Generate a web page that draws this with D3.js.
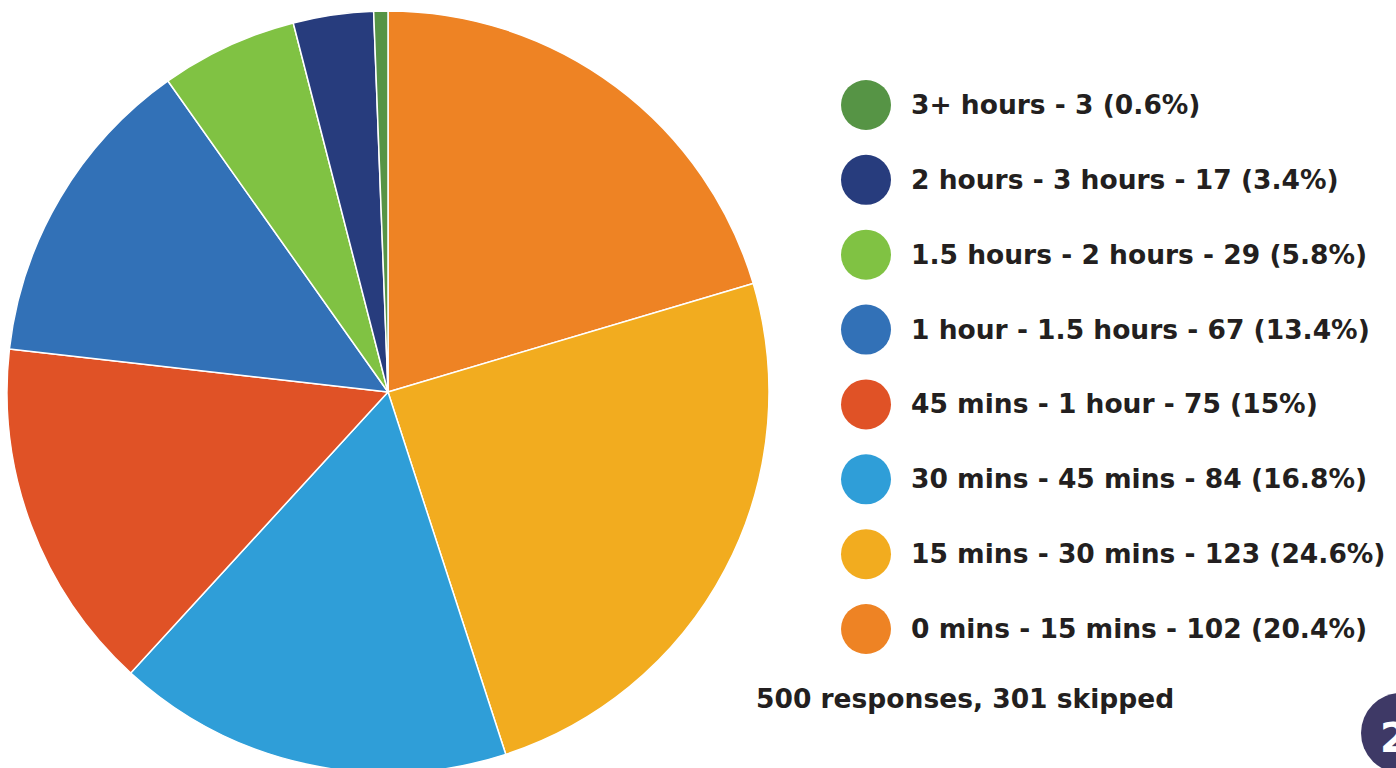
<!DOCTYPE html>
<html>
<head>
<meta charset="utf-8">
<script src="https://cdn.jsdelivr.net/npm/d3@7"></script>
<style>
  html, body { margin: 0; padding: 0; background: #ffffff; overflow: hidden; }
  svg { display: block; }
  text { font-family: "DejaVu Sans", "Liberation Sans", sans-serif; font-weight: bold; fill: #231f20; }
</style>
</head>
<body>
<svg id="chart" width="1396" height="768"></svg>
<script>
// Time spent per response, drawn clockwise from 12 o'clock
const categories = [
  "0 mins - 15 mins",
  "15 mins - 30 mins",
  "30 mins - 45 mins",
  "45 mins - 1 hour",
  "1 hour - 1.5 hours",
  "1.5 hours - 2 hours",
  "2 hours - 3 hours",
  "3+ hours"
];
const counts = [102, 123, 84, 75, 67, 29, 17, 3];
const percents = ["20.4%", "24.6%", "16.8%", "15%", "13.4%", "5.8%", "3.4%", "0.6%"];
const colors = ["#ee8324", "#f2ac1f", "#2f9ed8", "#e05226", "#3271b7", "#80c243", "#273c7d", "#569445"];
const footer = "500 responses, 301 skipped";
const badgeLabel = "2";

const svg = d3.select("#chart");

// Pie
const cx = 388, cy = 392, radius = 381;
const pie = d3.pie().sort(null).value(d => d.count);
const arc = d3.arc().innerRadius(0).outerRadius(radius);
const rows = categories.map((c, i) => ({ cat: c, count: counts[i], pct: percents[i], color: colors[i] }));

svg.append("g")
  .attr("transform", `translate(${cx},${cy})`)
  .selectAll("path")
  .data(pie(rows))
  .join("path")
  .attr("d", arc)
  .attr("fill", d => d.data.color)
  .attr("stroke", "#ffffff")
  .attr("stroke-width", 1.5)
  .attr("stroke-linejoin", "round");

// Legend (listed in reverse order, top to bottom)
const legendRows = rows.slice().reverse();
const ly = d3.scalePoint().domain(legendRows.map(d => d.cat)).range([105, 629]);
const legend = svg.append("g");
const item = legend.selectAll("g")
  .data(legendRows)
  .join("g")
  .attr("transform", d => `translate(0,${ly(d.cat)})`);
item.append("circle")
  .attr("cx", 866).attr("cy", 0).attr("r", 25)
  .attr("fill", d => d.color);
item.append("text")
  .attr("x", 911).attr("y", 9)
  .attr("font-size", 26.5)
  .text(d => `${d.cat} - ${d.count} (${d.pct})`);

svg.append("text")
  .attr("x", 756).attr("y", 708)
  .attr("font-size", 26.5)
  .text(footer);

// Page badge, partly off the right edge
svg.append("circle")
  .attr("cx", 1401).attr("cy", 733).attr("r", 40)
  .attr("fill", "#3e3966");
svg.append("text")
  .attr("x", 1380).attr("y", 752)
  .attr("font-size", 40)
  .style("fill", "#ffffff")
  .text(badgeLabel);
</script>
</body>
</html>
